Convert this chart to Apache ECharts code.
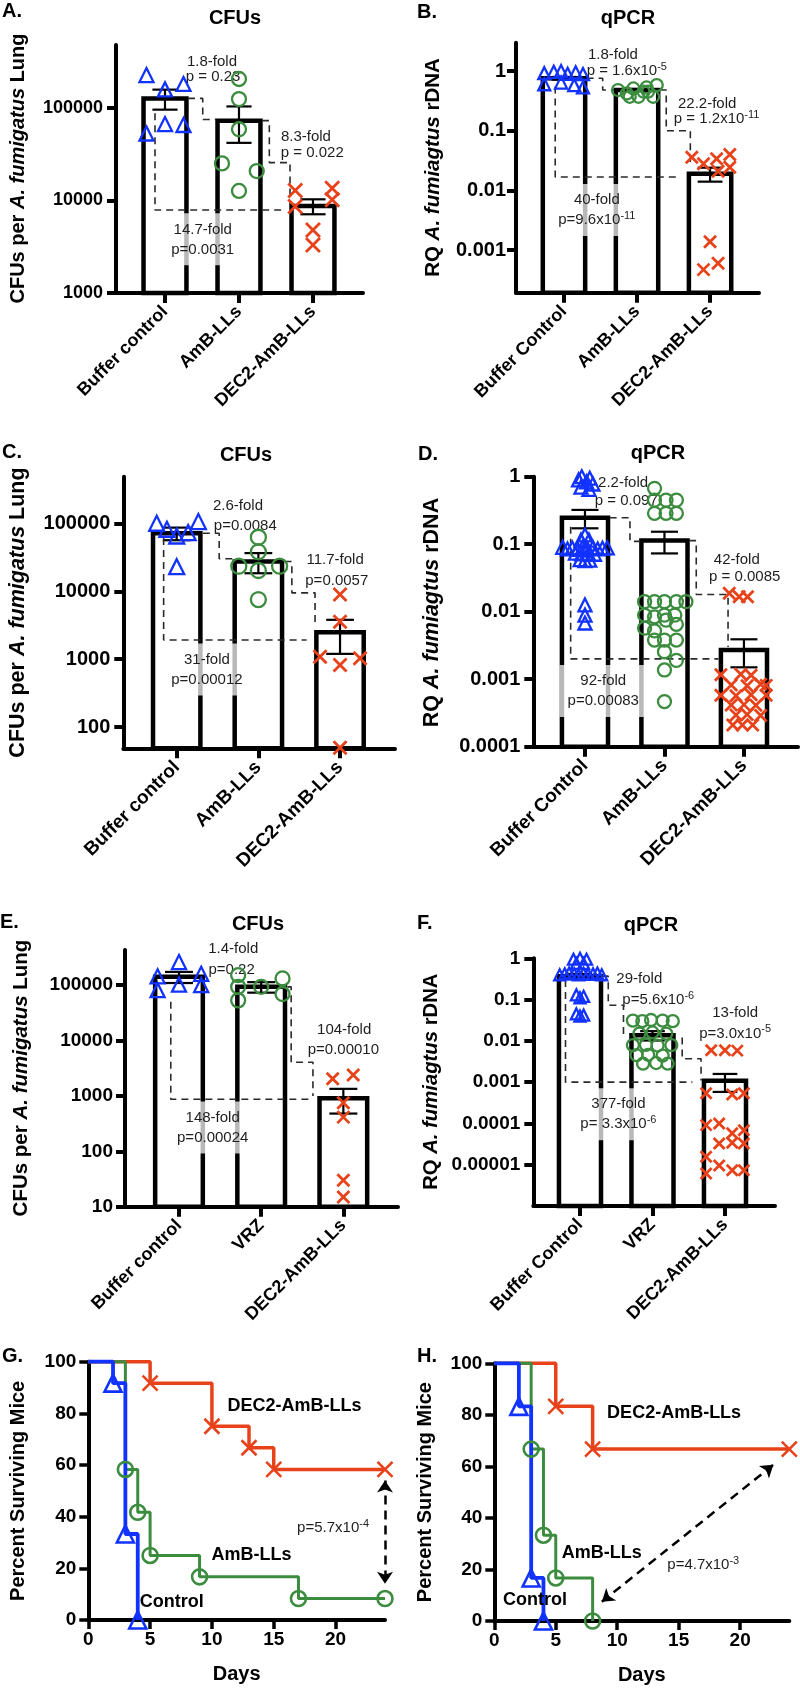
<!DOCTYPE html>
<html><head><meta charset="utf-8">
<script src="https://cdn.jsdelivr.net/npm/echarts@6/dist/echarts.min.js"></script>
<style>html,body{margin:0;padding:0;background:#fff}#c{width:800px;height:1693px}</style>
</head><body><div id="c"></div>
<script>
// ---------------- DATA ----------------
// Panel A (CFUs)
const catsA = ['Buffer control', 'AmB-LLs', 'DEC2-AmB-LLs'];
const meanA = [127000, 73000, 8700];
const semA = [31000, 31000, 1600];
const ptsA_bc = [227000, 159000, 182000, 53000, 67000, 65500];
const jitA_bc = [-0.25, 0, 0.25, -0.25, 0, 0.25];
const ptsA_amb = [206000, 125000, 58900, 25200, 20800, 12700];
const jitA_amb = [0, 0, 0, -0.23, 0.24, 0];
const ptsA_dec = [12800, 13600, 8600, 10200, 4800, 3300];
const jitA_dec = [-0.24, 0.26, -0.24, 0.26, 0, 0];
const yTicksA = [1000, 10000, 100000];
const yLabelsA = ['1000', '10000', '100000'];

// Panel B (qPCR)
const catsB = ['Buffer Control', 'AmB-LLs', 'DEC2-AmB-LLs'];
const meanB = [0.755, 0.48, 0.019];
const semB = [0.04, 0.02, 0.005];
const ptsB_bc = [0.92, 0.97, 1.0, 0.9, 0.95, 0.89, 0.6, 0.64, 0.58, 0.53];
const jitB_bc = [-0.27, -0.14, -0.04, 0.05, 0.16, 0.26, -0.27, -0.04, 0.14, 0.26];
const ptsB_amb = [0.48, 0.42, 0.51, 0.37, 0.53, 0.37, 0.58, 0.37, 0.45, 0.45];
const jitB_amb = [-0.26, -0.14, -0.05, 0.02, 0.13, 0.22, 0.27, -0.1, 0.09, 0.15];
const ptsB_dec = [0.036, 0.028, 0.034, 0.04, 0.0245, 0.021, 0.00138, 0.00047, 0.0006];
const jitB_dec = [-0.25, -0.09, 0.09, 0.27, 0.27, 0.11, 0, -0.09, 0.11];
const yTicksB = [0.001, 0.01, 0.1, 1];
const yLabelsB = ['0.001', '0.01', '0.1', '1'];

// Panel C (CFUs)
const catsC = ['Buffer control', 'AmB-LLs', 'DEC2-AmB-LLs'];
const meanC = [71300, 27400, 2500];
const semC = [15000, 9000, 1300];
const ptsC_bc = [100000, 81600, 65000, 72800, 106000, 23000];
const jitC_bc = [-0.245, -0.12, 0, 0.14, 0.265, 0];
const ptsC_amb = [62300, 38100, 23400, 23400, 20200, 7550];
const jitC_amb = [0, 0, -0.24, 0.26, 0, 0];
const ptsC_dec = [8940, 3570, 1090, 825, 1035, 50];
const jitC_dec = [0, 0, -0.245, 0, 0.245, 0];
const yTicksC = [100, 1000, 10000, 100000];
const yLabelsC = ['100', '1000', '10000', '100000'];

// Panel D (qPCR)
const catsD = ['Buffer Control', 'AmB-LLs', 'DEC2-AmB-LLs'];
const meanD = [0.247, 0.113, 0.0027];
const semD = [0.075, 0.04, 0.0012];
const ptsD_bc = [1.0, 0.95, 0.9, 0.84, 0.78, 0.7, 0.65,
  0.137, 0.115, 0.115, 0.09, 0.085, 0.088, 0.084, 0.09, 0.086, 0.089, 0.085, 0.087, 0.088,
  0.074, 0.072, 0.073, 0.071, 0.059, 0.057, 0.058,
  0.0126, 0.0089, 0.0068];
const jitD_bc = [-0.04, 0.06, -0.08, 0.02, 0.1, -0.05, 0.05,
  0, -0.05, 0.05, -0.28, -0.22, -0.16, -0.09, -0.03, 0.03, 0.1, 0.16, 0.22, 0.28,
  -0.12, -0.04, 0.04, 0.12, -0.06, 0, 0.06,
  0, 0, 0];
const ptsD_amb = [0.673, 0.45, 0.45, 0.45, 0.287, 0.287, 0.287,
  0.0141, 0.0141, 0.0141, 0.0141, 0.0141, 0.0089, 0.0084, 0.0089, 0.0089,
  0.0057, 0.0052, 0.0075, 0.0065, 0.0038, 0.0038, 0.0038, 0.00255, 0.0019, 0.00137, 0.000466];
const jitD_amb = [-0.125, -0.125, 0.02, 0.15, -0.125, 0.02, 0.15,
  -0.25, -0.125, 0, 0.15, 0.27, -0.25, -0.125, 0, 0.13,
  -0.25, -0.125, 0.02, 0.15, -0.125, 0, 0.15, 0, 0.15, 0, 0];
const ptsD_dec = [0.0187, 0.0167, 0.0167,
  0.00116, 0.00118, 0.00114, 0.00082, 0.0008, 0.00084, 0.00081,
  0.00058, 0.00057, 0.00059, 0.00058, 0.000415, 0.00042, 0.00041,
  0.000295, 0.0003, 0.00029, 0.00021, 0.00021, 0.00021];
const jitD_dec = [-0.185, -0.06, 0.045,
  -0.29, -0.04, 0.09, -0.16, 0.04, 0.21, 0.28,
  -0.29, -0.1, 0.09, 0.28, -0.16, 0, 0.15,
  -0.1, 0.04, 0.21, -0.14, -0.02, 0.11];
const yTicksD = [0.0001, 0.001, 0.01, 0.1, 1];
const yLabelsD = ['0.0001', '0.001', '0.01', '0.1', '1'];

// Panel E (CFUs)
const catsE = ['Buffer control', 'VRZ', 'DEC2-AmB-LLs'];
const meanE = [141000, 93000, 910];
const semE = [32000, 20000, 430];
const ptsE_bc = [144000, 260000, 160000, 81000, 102000, 100000];
const jitE_bc = [-0.26, 0, 0.27, -0.26, 0, 0.27];
const ptsE_vrz = [151000, 93000, 53000, 93000, 132000, 69000];
const jitE_vrz = [-0.28, -0.28, -0.28, 0, 0.26, 0.26];
const ptsE_dec = [2040, 2380, 755, 414, 30, 15];
const jitE_dec = [-0.13, 0.12, 0, 0, 0, 0];
const yTicksE = [10, 100, 1000, 10000, 100000];
const yLabelsE = ['10', '100', '1000', '10000', '100000'];

// Panel F (qPCR)
const catsF = ['Buffer Control', 'VRZ', 'DEC2-AmB-LLs'];
const meanF = [0.37, 0.0137, 0.00108];
const semF = [0.05, 0.0035, 0.0005];
const ptsF_bc = [0.95, 1.0, 0.95, 0.75, 0.75,
  0.4, 0.42, 0.44, 0.42, 0.4, 0.43, 0.41, 0.42, 0.44, 0.4,
  0.13, 0.11, 0.12, 0.045, 0.04, 0.042];
const jitF_bc = [-0.09, 0, 0.09, -0.05, 0.05,
  -0.28, -0.21, -0.15, -0.08, -0.02, 0.05, 0.11, 0.18, 0.24, 0.3,
  -0.05, 0, 0.05, -0.05, 0, 0.05];
const ptsF_vrz = [0.031, 0.03, 0.032, 0.031, 0.03, 0.015, 0.016, 0.015,
  0.0079, 0.008, 0.0077, 0.0079, 0.0045, 0.0046, 0.0044, 0.0028, 0.0029, 0.0028];
const jitF_vrz = [-0.27, -0.14, -0.02, 0.14, 0.28, -0.18, 0, 0.19,
  -0.27, -0.09, 0.07, 0.26, -0.22, -0.06, 0.14, -0.13, 0.05, 0.21];
const ptsF_dec = [0.0059, 0.0059, 0.0058, 0.00054, 0.0005, 0.00054,
  0.000091, 0.0001, 0.0000576, 0.0000687, 0.0000327, 0.000034, 0.0000327,
  0.0000155, 0.0000096, 0.0000073, 0.0000073, 0.0000061];
const jitF_dec = [-0.19, 0, 0.17, -0.26, 0.1, 0.26,
  -0.26, -0.08, 0.1, 0.26, -0.08, 0.1, 0.26,
  -0.26, -0.08, 0.1, 0.26, -0.26];
const yTicksF = [0.00001, 0.0001, 0.001, 0.01, 0.1, 1];
const yLabelsF = ['0.00001', '0.0001', '0.001', '0.01', '0.1', '1'];

// Panel G (survival)
const daysG_ctrl = [0, 2, 3, 4];          const survG_ctrl = [100, 91.7, 33.3, 0];
const daysG_amb = [0, 3, 4, 5, 9, 17, 24]; const survG_amb = [100, 58.3, 41.7, 25, 16.7, 8.3, 8.3];
const daysG_dec = [0, 5, 10, 13, 15, 24];  const survG_dec = [100, 91.7, 75, 66.7, 58.3, 58.3];
// Panel H (survival)
const daysH_ctrl = [0, 2, 3, 4];          const survH_ctrl = [100, 83.3, 16.7, 0];
const daysH_amb = [0, 3, 4, 5, 8];         const survH_amb = [100, 66.7, 33.3, 16.7, 0];
const daysH_dec = [0, 5, 8, 24];           const survH_dec = [100, 83.3, 66.7, 66.7];
const dayTicks = [0, 5, 10, 15, 20];
const survTicks = [0, 20, 40, 60, 80, 100];

// ---------------- STYLE / BUILD ----------------
const FONT = '"Liberation Sans", Arial, Helvetica, sans-serif';
const BLUE = '#1232ff', GREEN = '#3b8c3e', RED = '#e8421a';
const COLS = [BLUE, GREEN, RED];
const XPATH = 'path://M0,0L10,10M10,0L0,10';
const SYMS = ['triangle', 'circle', XPATH];
const BAR_HW = 0.29, CAP_HW = 0.17;
const TXT = '#1e1e1e';

const grids = [], xAxes = [], yAxes = [], series = [], graphics = [];

function labelFor(v, ticks, labels) {
  for (let i = 0; i < ticks.length; i++) {
    if (Math.abs(Math.log10(v) - Math.log10(ticks[i])) < 1e-6) return labels[i];
  }
  return '';
}
function annSeries(gi, anns, size) {
  return {
    type: 'scatter', xAxisIndex: gi, yAxisIndex: gi, z: 3, silent: true, clip: false,
    symbolSize: 1, itemStyle: { color: 'rgba(0,0,0,0)', opacity: 1 }, animation: false,
    data: anns.map(a => {
      const lab = {};
      if (a.box) { lab.backgroundColor = 'rgba(255,255,255,0.72)'; lab.padding = [6, 8]; }
      if (a.bold) { lab.fontWeight = 'bold'; lab.fontSize = a.bold; lab.color = '#000'; }
      return { value: [a.x, a.y], label: lab };
    }),
    label: {
      show: true, position: 'inside', formatter: (pp) => anns[pp.dataIndex].t, opacity: 1,
      textBorderWidth: 0, textShadowBlur: 0,
      color: TXT, fontFamily: FONT, fontSize: size, fontWeight: 'normal', lineHeight: size + 5,
      rich: { s: { fontSize: Math.round(size * 0.7), fontFamily: FONT, color: TXT, padding: [0, 0, 9, 0] } }
    }
  };
}
function yTitle(parts, cx, cy, size) {
  const rich = {
    b: { fontSize: size, fontWeight: 'bold', fontFamily: FONT, fill: '#000', color: '#000' },
    i: { fontSize: size, fontWeight: 'bold', fontStyle: 'italic', fontFamily: FONT, fill: '#000', color: '#000' }
  };
  graphics.push({
    type: 'text', x: cx, y: cy, rotation: Math.PI / 2, z: 10,
    style: { text: '{b|' + parts[0] + '}{i|' + parts[1] + '}{b|' + parts[2] + '}', rich: rich,
      font: 'bold ' + size + 'px ' + FONT, fill: '#000',
      align: 'center', verticalAlign: 'middle', textAlign: 'center', textVerticalAlign: 'middle' }
  });
}

function addBarPanel(p) {
  const gi = grids.length;
  grids.push({ left: p.grid[0], top: p.grid[1], width: p.grid[2], height: p.grid[3], containLabel: false, outerBoundsMode: 'none' });
  xAxes.push({
    gridIndex: gi, type: 'value', min: p.xRange[0], max: p.xRange[1],
    axisLine: { show: true, onZero: false, lineStyle: { color: '#000', width: 4 } },
    axisTick: { show: true, length: 10, customValues: [0, 1, 2], lineStyle: { color: '#000', width: 4 } },
    axisLabel: { show: true, customValues: [0, 1, 2], rotate: 45, margin: p.catMargin, color: '#000', fontFamily: FONT,
      fontWeight: 'bold', fontSize: p.catFont, formatter: (v) => p.cats[Math.round(v)] },
    splitLine: { show: false }
  });
  yAxes.push({
    gridIndex: gi, type: 'log', logBase: 10, min: p.yRange[0], max: p.yRange[1],
    axisLine: { show: true, onZero: false, lineStyle: { color: '#000', width: 4 } },
    axisTick: { show: true, length: 9, customValues: p.yTicks, lineStyle: { color: '#000', width: 4 } },
    axisLabel: { show: true, customValues: p.yTicks, margin: p.yMargin, color: '#000', fontFamily: FONT,
      fontWeight: 'bold', fontSize: p.tickFont, formatter: (v) => labelFor(v, p.yTicks, p.yLabels) },
    splitLine: { show: false }, minorTick: { show: false }, minorSplitLine: { show: false }
  });
  yTitle(p.yName, p.yTitlePos[0], p.yTitlePos[1], p.nameFont);
  // bars with SEM error bars
  series.push({
    type: 'custom', xAxisIndex: gi, yAxisIndex: gi, z: 2, silent: true, clip: false, animation: false,
    data: p.means.map((m, i) => [i, m, p.sems[i]]),
    renderItem: (params, api) => {
      const x = api.value(0), m = api.value(1), s = api.value(2);
      const top = api.coord([x, m]);
      const l = api.coord([x - BAR_HW, m])[0], r = api.coord([x + BAR_HW, m])[0];
      const base = api.coord([x, p.yRange[0]])[1];
      const hi = api.coord([x, m + s])[1];
      const lo = api.coord([x, Math.max(m - s, p.yRange[0])])[1];
      const cl = api.coord([x - CAP_HW, m])[0], cr = api.coord([x + CAP_HW, m])[0];
      const es = { stroke: '#000', lineWidth: 2.2, fill: null };
      return { type: 'group', children: [
        { type: 'rect', shape: { x: l, y: top[1], width: r - l, height: base - top[1] }, style: { fill: '#fff', stroke: '#000', lineWidth: 4.5 } },
        { type: 'line', shape: { x1: top[0], y1: hi, x2: top[0], y2: lo }, style: es },
        { type: 'line', shape: { x1: cl, y1: hi, x2: cr, y2: hi }, style: es },
        { type: 'line', shape: { x1: cl, y1: lo, x2: cr, y2: lo }, style: es }
      ] };
    }
  });
  // comparison brackets
  p.brackets.forEach(b => series.push({
    type: 'line', xAxisIndex: gi, yAxisIndex: gi, z: 4, silent: true, clip: false, animation: false,
    symbol: 'none', data: b, lineStyle: { color: '#2a2a2a', width: 1.6, type: [7, 5] }
  }));
  // individual points
  for (let g = 0; g < 3; g++) {
    series.push({
      type: 'scatter', xAxisIndex: gi, yAxisIndex: gi, z: 5, silent: true, clip: false, animation: false,
      symbol: SYMS[g], symbolSize: p.sym[g],
      data: p.pts[g].map((v, k) => [g + p.jit[g][k], v]),
      itemStyle: { color: 'rgba(0,0,0,0)', borderColor: COLS[g], borderWidth: g === 2 ? 2.8 : 2.3, opacity: 1 }
    });
  }
  series.push(annSeries(gi, p.anns, 15));
  graphics.push({ type: 'text', x: p.letter[1], y: p.letter[2], z: 10,
    style: { text: p.letter[0], font: 'bold 20px ' + FONT, fill: '#000', align: 'left', verticalAlign: 'middle', textAlign: 'left', textVerticalAlign: 'middle' } });
  graphics.push({ type: 'text', x: p.title[1], y: p.title[2], z: 10,
    style: { text: p.title[0], font: 'bold 20px ' + FONT, fill: '#000', align: 'center', verticalAlign: 'middle', textAlign: 'center', textVerticalAlign: 'middle' } });
}

function kmSeries(gi, days, surv, color, sym, size, width, ml) {
  const s = {
    type: 'line', xAxisIndex: gi, yAxisIndex: gi, step: 'end', z: 3, silent: true, clip: false, animation: false,
    data: days.map((d, i) => i === 0 ? { value: [d, surv[i]], symbol: 'none' } : [d, surv[i]]),
    symbol: sym, symbolSize: size, showSymbol: true, showAllSymbol: true,
    lineStyle: { color: color, width: width },
    itemStyle: { color: 'rgba(0,0,0,0)', borderColor: color, borderWidth: 2.6, opacity: 1 }
  };
  if (ml) s.markLine = ml;
  return s;
}

function addSurvPanel(p) {
  const gi = grids.length;
  grids.push({ left: p.grid[0], top: p.grid[1], width: p.grid[2], height: p.grid[3], containLabel: false, outerBoundsMode: 'none' });
  const lab = { show: true, color: '#000', fontFamily: FONT, fontWeight: 'bold', fontSize: 19 };
  xAxes.push({
    gridIndex: gi, type: 'value', min: 0, max: 24,
    axisLine: { show: true, onZero: false, lineStyle: { color: '#000', width: 4 } },
    axisTick: { show: true, length: 9, customValues: dayTicks, lineStyle: { color: '#000', width: 3.5 } },
    axisLabel: Object.assign({ customValues: dayTicks, margin: 10 }, lab),
    splitLine: { show: false },
    name: 'Days', nameLocation: 'middle', nameGap: 44,
    nameTextStyle: { fontSize: 20, fontWeight: 'bold', color: '#000', fontFamily: FONT }
  });
  yAxes.push({
    gridIndex: gi, type: 'value', min: 0, max: 100,
    axisLine: { show: true, onZero: false, lineStyle: { color: '#000', width: 4 } },
    axisTick: { show: true, length: 9, customValues: survTicks, lineStyle: { color: '#000', width: 3.5 } },
    axisLabel: Object.assign({ customValues: survTicks, margin: 12 }, lab),
    splitLine: { show: false },
    name: 'Percent Surviving Mice', nameLocation: 'middle', nameGap: p.nameGap, nameRotate: 90,
    nameTextStyle: { fontSize: 20, fontWeight: 'bold', color: '#000', fontFamily: FONT }
  });
  const ml = {
    silent: true, animation: false, symbol: ['arrow', 'arrow'], symbolSize: 12, label: { show: false },
    lineStyle: { type: [9, 6], color: '#000', width: 2.5 },
    data: [[{ coord: p.arrow[0] }, { coord: p.arrow[1] }]]
  };
  series.push(kmSeries(gi, p.dec[0], p.dec[1], RED, XPATH, 15, 3.5, ml));
  series.push(kmSeries(gi, p.amb[0], p.amb[1], GREEN, 'circle', 15, 3));
  series.push(kmSeries(gi, p.ctrl[0], p.ctrl[1], BLUE, 'triangle', 17, 3.8));
  series.push(annSeries(gi, p.anns, 15));
  graphics.push({ type: 'text', x: p.letter[1], y: p.letter[2], z: 10,
    style: { text: p.letter[0], font: 'bold 20px ' + FONT, fill: '#000', align: 'left', verticalAlign: 'middle', textAlign: 'left', textVerticalAlign: 'middle' } });
}

const CFU_NAME = ['CFUs per ', 'A. fumigatus', ' Lung'];
const RQ_NAME = ['RQ ', 'A. fumiagtus', ' rDNA'];

addBarPanel({
  grid: [116, 45, 247, 248], xRange: [-0.662, 2.676], yRange: [1000, 480000],
  yTicks: yTicksA, yLabels: yLabelsA, cats: catsA, means: meanA, sems: semA,
  pts: [ptsA_bc, ptsA_amb, ptsA_dec], jit: [jitA_bc, jitA_amb, jitA_dec], sym: [14, 14, 14],
  tickFont: 18, yMargin: 13, catFont: 18, catMargin: 16, nameFont: 20, yName: CFU_NAME, yTitlePos: [18, 168.5],
  letter: ['A.', 2, 11], title: ['CFUs', 235, 18],
  anns: [
    { x: 0.635, y: 314000, t: '1.8-fold' }, { x: 0.65, y: 216000, t: 'p = 0.23' },
    { x: 1.905, y: 48600, t: '8.3-fold' }, { x: 1.99, y: 32700, t: 'p = 0.022' },
    { x: 0.51, y: 3800, t: '14.7-fold\np=0.0031', box: true }
  ],
  brackets: [
    [[0.31, 127000], [0.51, 127000], [0.51, 75000], [0.69, 75000]],
    [[1.31, 73000], [1.41, 73000], [1.41, 25700], [1.69, 25700], [1.69, 9000]],
    [[-0.135, 88000], [-0.135, 7900], [1.595, 7900]]
  ]
});
addBarPanel({
  grid: [516, 42.7, 243, 250], xRange: [-0.657, 2.67], yRange: [0.000193, 2.98],
  yTicks: yTicksB, yLabels: yLabelsB, cats: catsB, means: meanB, sems: semB,
  pts: [ptsB_bc, ptsB_amb, ptsB_dec], jit: [jitB_bc, jitB_amb, jitB_dec], sym: [12, 12, 12],
  tickFont: 20, yMargin: 10, catFont: 18, catMargin: 16, nameFont: 20.5, yName: RQ_NAME, yTitlePos: [433, 167.5],
  letter: ['B.', 417, 12], title: ['qPCR', 628, 18],
  anns: [
    { x: 0.67, y: 1.85, t: '1.8-fold' }, { x: 0.86, y: 1.0, t: 'p = 1.6x10{s|-5}' },
    { x: 1.96, y: 0.28, t: '22.2-fold' }, { x: 2.09, y: 0.157, t: 'p = 1.2x10{s|-11}' },
    { x: 0.45, y: 0.00468, t: '40-fold\np=9.6x10{s|-11}', box: true }
  ],
  brackets: [
    [[0.31, 0.755], [0.53, 0.755], [0.53, 0.48], [0.69, 0.48]],
    [[1.31, 0.48], [1.4, 0.48], [1.4, 0.1], [1.73, 0.1], [1.73, 0.03]],
    [[-0.12, 0.55], [-0.12, 0.0168], [1.59, 0.0168]]
  ]
});
addBarPanel({
  grid: [123.3, 476.7, 271.7, 271.6], xRange: [-0.654, 2.673], yRange: [49, 484000],
  yTicks: yTicksC, yLabels: yLabelsC, cats: catsC, means: meanC, sems: semC,
  pts: [ptsC_bc, ptsC_amb, ptsC_dec], jit: [jitC_bc, jitC_amb, jitC_dec], sym: [15, 15, 13],
  tickFont: 20, yMargin: 13, catFont: 19, catMargin: 16, nameFont: 21.5, yName: CFU_NAME, yTitlePos: [18, 612.5],
  letter: ['C.', 2, 452], title: ['CFUs', 246, 455],
  anns: [
    { x: 0.75, y: 179000, t: '2.6-fold' }, { x: 0.84, y: 91200, t: 'p=0.0084' },
    { x: 1.94, y: 28800, t: '11.7-fold' }, { x: 1.96, y: 14300, t: 'p=0.0057' },
    { x: 0.37, y: 708, t: '31-fold\np=0.00012', box: true }
  ],
  brackets: [
    [[0.32, 71300], [0.52, 71300], [0.52, 30000], [0.68, 30000]],
    [[1.32, 27400], [1.41, 27400], [1.41, 9470], [1.694, 9470], [1.694, 3500]],
    [[-0.16, 60800], [-0.16, 1920], [1.59, 1920]]
  ]
});
addBarPanel({
  grid: [533.3, 476.7, 264.7, 270], xRange: [-0.65, 2.68], yRange: [0.0001, 1],
  yTicks: yTicksD, yLabels: yLabelsD, cats: catsD, means: meanD, sems: semD,
  pts: [ptsD_bc, ptsD_amb, ptsD_dec], jit: [jitD_bc, jitD_amb, jitD_dec], sym: [13, 13, 12],
  tickFont: 20, yMargin: 13, catFont: 19, catMargin: 16, nameFont: 21.5, yName: RQ_NAME, yTitlePos: [432, 612.5],
  letter: ['D.', 418, 454], title: ['qPCR', 658, 453],
  anns: [
    { x: 0.48, y: 0.815, t: '2.2-fold' }, { x: 0.52, y: 0.436, t: 'p = 0.097' },
    { x: 1.91, y: 0.0583, t: '42-fold' }, { x: 2.01, y: 0.033, t: 'p = 0.0085' },
    { x: 0.23, y: 0.000668, t: '92-fold\np=0.00083', box: true }
  ],
  brackets: [
    [[0.31, 0.247], [0.566, 0.247], [0.566, 0.11], [0.69, 0.11]],
    [[1.31, 0.113], [1.4, 0.113], [1.4, 0.018], [1.8, 0.018], [1.8, 0.003]],
    [[-0.18, 0.182], [-0.18, 0.002], [1.68, 0.002]]
  ]
});
addBarPanel({
  grid: [125, 950, 273, 256.7], xRange: [-0.657, 2.665], yRange: [10, 430000],
  yTicks: yTicksE, yLabels: yLabelsE, cats: catsE, means: meanE, sems: semE,
  pts: [ptsE_bc, ptsE_vrz, ptsE_dec], jit: [jitE_bc, jitE_vrz, jitE_dec], sym: [14, 14, 12],
  tickFont: 19, yMargin: 12, catFont: 18, catMargin: 16, nameFont: 20.5, yName: CFU_NAME, yTitlePos: [21.7, 1078],
  letter: ['E.', 0, 922], title: ['CFUs', 258, 924],
  anns: [
    { x: 0.66, y: 448000, t: '1.4-fold' }, { x: 0.64, y: 187000, t: 'p=0.22' },
    { x: 2.01, y: 15300, t: '104-fold' }, { x: 2.0, y: 6680, t: 'p=0.00010' },
    { x: 0.41, y: 270, t: '148-fold\np=0.00024', box: true }
  ],
  brackets: [
    [[1.32, 93000], [1.365, 93000], [1.365, 4050], [1.63, 4050], [1.63, 1000]],
    [[-0.1, 49900], [-0.1, 870], [1.595, 870]]
  ]
});
addBarPanel({
  grid: [533.3, 958.3, 241.7, 247.7], xRange: [-0.644, 2.69], yRange: [0.000001, 1],
  yTicks: yTicksF, yLabels: yLabelsF, cats: catsF, means: meanF, sems: semF,
  pts: [ptsF_bc, ptsF_vrz, ptsF_dec], jit: [jitF_bc, jitF_vrz, jitF_dec], sym: [11, 12, 11],
  tickFont: 19, yMargin: 13, catFont: 18, catMargin: 16, nameFont: 20.3, yName: RQ_NAME, yTitlePos: [431.7, 1081.7],
  letter: ['F.', 417, 923], title: ['qPCR', 651, 925],
  anns: [
    { x: 0.818, y: 0.309, t: '29-fold' }, { x: 1.08, y: 0.0973, t: 'p=5.6x10{s|-6}' },
    { x: 2.14, y: 0.0478, t: '13-fold' }, { x: 2.14, y: 0.0151, t: 'p=3.0x10{s|-5}' },
    { x: 0.53, y: 0.000166, t: '377-fold\np= 3.3x10{s|-6}', box: true }
  ],
  brackets: [
    [[0.31, 0.37], [0.39, 0.37], [0.39, 0.073], [0.6, 0.073], [0.6, 0.0137]],
    [[1.41, 0.012], [1.41, 0.0037], [1.67, 0.0037], [1.67, 0.0011]],
    [[-0.2, 0.297], [-0.2, 0.001], [1.55, 0.001]]
  ]
});
addSurvPanel({
  grid: [88.3, 1361.7, 296.7, 258.3], nameGap: 60, letter: ['G.', 2, 1356],
  ctrl: [daysG_ctrl, survG_ctrl], amb: [daysG_amb, survG_amb], dec: [daysG_dec, survG_dec],
  arrow: [[24, 54], [24, 14]],
  anns: [
    { x: 16.67, y: 82.8, t: 'DEC2-AmB-LLs', bold: 18 }, { x: 13.2, y: 25.2, t: 'AmB-LLs', bold: 18 },
    { x: 6.75, y: 6.85, t: 'Control', bold: 18 }, { x: 19.8, y: 35.5, t: 'p=5.7x10{s|-4}' }
  ]
});
addSurvPanel({
  grid: [494.3, 1363.3, 295, 257.7], nameGap: 59, letter: ['H.', 417, 1356],
  ctrl: [daysH_ctrl, survH_ctrl], amb: [daysH_amb, survH_amb], dec: [daysH_dec, survH_dec],
  arrow: [[8.75, 7.5], [22.7, 60.6]],
  anns: [
    { x: 14.63, y: 80.7, t: 'DEC2-AmB-LLs', bold: 18 }, { x: 8.75, y: 26.5, t: 'AmB-LLs', bold: 18 },
    { x: 3.31, y: 8.2, t: 'Control', bold: 18 }, { x: 17.0, y: 21.7, t: 'p=4.7x10{s|-3}' }
  ]
});

const chart = echarts.init(document.getElementById('c'), null, { renderer: 'canvas' });
chart.setOption({
  backgroundColor: '#fff', animation: false,
  textStyle: { fontFamily: FONT },
  grid: grids, xAxis: xAxes, yAxis: yAxes, series: series, graphic: graphics
});
</script></body></html>
